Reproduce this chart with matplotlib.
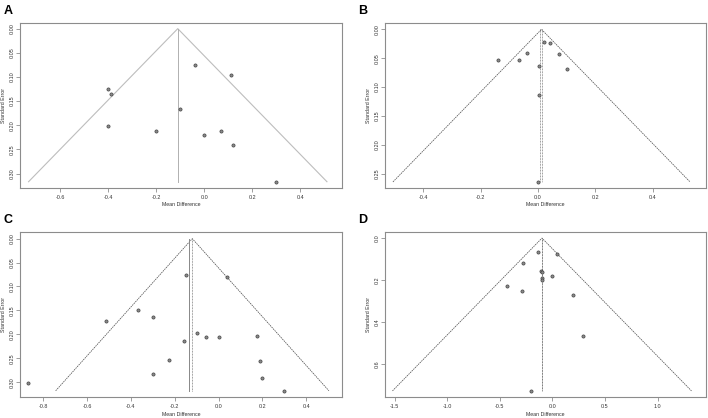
import numpy as np
import matplotlib.pyplot as plt

plt.rcParams['font.family'] = ['Liberation Sans', 'DejaVu Sans']
plt.rcParams['axes.unicode_minus'] = False

# panel A: mean difference / standard error of each study
a_md = [-0.04, 0.11, -0.40, -0.39, -0.10, -0.40, -0.20, 0.00, 0.07, 0.12, 0.30]
a_se = [0.075, 0.097, 0.126, 0.136, 0.167, 0.201, 0.212, 0.220, 0.212, 0.241, 0.317]
a_center = -0.11
a_solid = [-0.11]
a_dotted = []
a_xticks = [-0.6, -0.4, -0.2, 0.0, 0.2, 0.4]
a_yticks = [0.00, 0.05, 0.10, 0.15, 0.20, 0.25, 0.30]

# panel B
b_md = [0.021, 0.040, -0.038, 0.072, -0.067, 0.002, 0.102, 0.002, -0.138, 0.000]
b_se = [0.022, 0.024, 0.041, 0.042, 0.053, 0.064, 0.069, 0.113, 0.054, 0.2645]
b_center = 0.012
b_solid = []
b_dotted = [0.008, 0.015]
b_xticks = [-0.4, -0.2, 0.0, 0.2, 0.4]
b_yticks = [0.00, 0.05, 0.10, 0.15, 0.20, 0.25]

# panel C
c_md = [-0.149, 0.040, -0.367, -0.297, -0.514, -0.097, -0.059, 0.000,
        0.177, -0.160, -0.227, 0.187, -0.297, 0.198, -0.869, 0.297]
c_se = [0.076, 0.081, 0.149, 0.164, 0.172, 0.198, 0.206, 0.206,
        0.203, 0.213, 0.253, 0.256, 0.282, 0.291, 0.301, 0.318]
c_center = -0.12
c_solid = [-0.136]
c_dotted = [-0.12]
c_xticks = [-0.8, -0.6, -0.4, -0.2, 0.0, 0.2, 0.4]
c_yticks = [0.00, 0.05, 0.10, 0.15, 0.20, 0.25, 0.30]

# panel D
d_md = [-0.142, 0.041, -0.285, -0.111, -0.100, -0.004, -0.100, -0.100,
        -0.436, -0.294, 0.195, 0.294, -0.202]
d_se = [0.065, 0.077, 0.120, 0.155, 0.160, 0.178, 0.191, 0.199,
        0.227, 0.251, 0.271, 0.466, 0.726]
d_center = -0.10
d_solid = []
d_dotted = [-0.102, -0.098]
d_xticks = [-1.5, -1.0, -0.5, 0.0, 0.5, 1.0]
d_yticks = [0.0, 0.2, 0.4, 0.6]

W, H = 708, 418
fig = plt.figure(figsize=(W / 100, H / 100), dpi=100)

def add_axes(left, top, right, bottom):
    return fig.add_axes([left / W, 1 - bottom / H, (right - left) / W, (bottom - top) / H])

def funnel(ax, md, se, center, solid, dotted, xticks, yticks, xlim, ylim, yfmt, xfmt, light):
    se_max = max(se)
    # pseudo confidence region
    if light:
        fstyle = dict(color='#bdbdbd', lw=0.8, ls='-')
    else:
        fstyle = dict(color='#555555', lw=0.55, ls=(0, (2, 1)))
    ax.plot([center - 1.96 * se_max, center, center + 1.96 * se_max],
            [se_max, 0, se_max], **fstyle)
    for v in solid:
        ax.plot([v, v], [0, se_max], color='#b0b0b0' if light else '#888888', lw=0.7)
    for v in dotted:
        ax.plot([v, v], [0, se_max], color='#666666', lw=0.55, ls=(0, (1, 1)))
    ax.plot(md, se, ls='none', marker='o', ms=2.3, mfc='#8a8a8a', mec='#3a3a3a', mew=0.45)
    ax.set_xlim(*xlim)
    ax.set_ylim(*ylim)
    ax.set_xticks(xticks)
    ax.set_xticklabels([xfmt % t for t in xticks])
    ax.set_yticks(yticks)
    ax.set_yticklabels([yfmt % t for t in yticks], rotation=90, va='center')
    ax.tick_params(length=2.8, width=0.5, color='#777777', labelsize=3.9,
                   labelcolor='#333333', pad=2)
    ax.tick_params(axis='y', pad=1)
    for s in ax.spines.values():
        s.set_color('#8c8c8c')
        s.set_linewidth(0.8)

#top row
axA = add_axes(20, 23, 342, 188)
funnel(axA, a_md, a_se, a_center, a_solid, a_dotted, a_xticks, a_yticks,
       (-0.767, 0.574), (0.330, -0.0117), '%.2f', '%.1f', True)
axB = add_axes(385, 23, 706, 188)
funnel(axB, b_md, b_se, b_center, b_solid, b_dotted, b_xticks, b_yticks,
       (-0.534, 0.586), (0.275, -0.011), '%.2f', '%.1f', False)
#bottom row
axC = add_axes(20, 232, 342, 397)
funnel(axC, c_md, c_se, c_center, c_solid, c_dotted, c_xticks, c_yticks,
       (-0.906, 0.563), (0.331, -0.0139), '%.2f', '%.1f', False)
axD = add_axes(385, 232, 706, 397)
funnel(axD, d_md, d_se, d_center, d_solid, d_dotted, d_xticks, d_yticks,
       (-1.594, 1.461), (0.755, -0.029), '%.1f', '%.1f', False)

# axis titles and panel letters
for (lx, cx, ty, cy) in [(3.5, 181, 205, 105.5), (368, 545.5, 205, 105.5),
                         (3.5, 181, 414, 314.5), (368, 545.5, 414, 314.5)]:
    fig.text(lx / W, 1 - cy / H, 'Standard Error', rotation=90, ha='center', va='center',
             fontsize=3.8, color='#333333')
    fig.text(cx / W, 1 - ty / H, 'Mean Difference', ha='center', va='center',
             fontsize=3.8, color='#333333')
for (x, y, letter) in [(8.5, 11, 'A'), (363, 11, 'B'), (8.5, 220, 'C'), (363, 220, 'D')]:
    fig.text(x / W, 1 - y / H, letter, ha='center', va='center', fontsize=9,
             fontweight='bold', color='black')

fig.savefig('out.png', dpi=100)
